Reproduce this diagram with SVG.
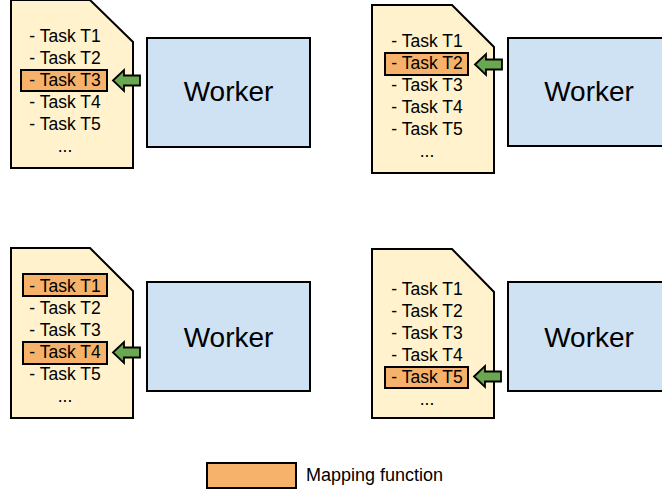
<svg xmlns="http://www.w3.org/2000/svg" width="662" height="491" viewBox="0 0 662 491">
<style>
.doc{fill:#fff2cc;stroke:#000;stroke-width:2;stroke-linejoin:miter}
.worker{fill:#cfe2f3;stroke:#000;stroke-width:2}
.hl{fill:#f6b26b;stroke:#000;stroke-width:2}
.arrow{fill:#6aa84f;stroke:#000;stroke-width:1.8;stroke-linejoin:miter}
.t{font-family:"Liberation Sans",Arial,sans-serif;font-size:17.5px;fill:#000;text-anchor:middle}
.w{font-family:"Liberation Sans",Arial,sans-serif;font-size:28px;fill:#000;text-anchor:middle}
.lg{font-family:"Liberation Sans",Arial,sans-serif;font-size:18px;fill:#000}
</style>
<rect width="662" height="491" fill="#fff"/>
<g id="doc-tl">
<path class="doc" d="M11,0 L90,0 L133,42 L133,168 L11,168 Z"/>
<rect class="hl" x="21" y="70" width="86" height="21"/>
<text class="t" x="65" y="42">- Task T1</text>
<text class="t" x="65" y="64">- Task T2</text>
<text class="t" x="65" y="86">- Task T3</text>
<text class="t" x="65" y="108">- Task T4</text>
<text class="t" x="65" y="130">- Task T5</text>
<text class="t" x="65" y="152">...</text>
</g>
<g id="worker-tl">
<rect class="worker" x="147" y="38" width="163" height="109"/>
<text class="w" x="228.5" y="101">Worker</text>
</g>
<g id="doc-tr">
<path class="doc" d="M372,5 L452,5 L494,47 L494,173 L372,173 Z"/>
<rect class="hl" x="385" y="53" width="83" height="22"/>
<text class="t" x="427" y="47">- Task T1</text>
<text class="t" x="427" y="69">- Task T2</text>
<text class="t" x="427" y="91">- Task T3</text>
<text class="t" x="427" y="113">- Task T4</text>
<text class="t" x="427" y="135">- Task T5</text>
<text class="t" x="427" y="157">...</text>
</g>
<g id="worker-tr">
<rect class="worker" x="508" y="38" width="164" height="108"/>
<text class="w" x="589" y="101">Worker</text>
</g>
<g id="doc-bl">
<path class="doc" d="M11,248 L90,248 L133,291 L133,418 L11,418 Z"/>
<rect class="hl" x="23" y="274" width="84" height="22"/>
<rect class="hl" x="23" y="342" width="84" height="22"/>
<text class="t" x="65" y="292">- Task T1</text>
<text class="t" x="65" y="314">- Task T2</text>
<text class="t" x="65" y="336">- Task T3</text>
<text class="t" x="65" y="358">- Task T4</text>
<text class="t" x="65" y="380">- Task T5</text>
<text class="t" x="65" y="402">...</text>
</g>
<g id="worker-bl">
<rect class="worker" x="147" y="282" width="163" height="109"/>
<text class="w" x="228.5" y="347">Worker</text>
</g>
<g id="doc-br">
<path class="doc" d="M372,249 L452,249 L494,292 L494,418 L372,418 Z"/>
<rect class="hl" x="385" y="367" width="83" height="21"/>
<text class="t" x="427" y="295">- Task T1</text>
<text class="t" x="427" y="317">- Task T2</text>
<text class="t" x="427" y="339">- Task T3</text>
<text class="t" x="427" y="361">- Task T4</text>
<text class="t" x="427" y="383">- Task T5</text>
<text class="t" x="427" y="405">...</text>
</g>
<g id="worker-br">
<rect class="worker" x="508" y="282" width="164" height="109"/>
<text class="w" x="589" y="347">Worker</text>
</g>
<g id="connectors">
<path class="arrow" d="M113,80.5 L124,70 L124,75.5 L140,75.5 L140,85.5 L124,85.5 L124,91 Z"/>
<path class="arrow" d="M475,64.5 L486,54 L486,59.5 L502,59.5 L502,69.5 L486,69.5 L486,75 Z"/>
<path class="arrow" d="M113,352.5 L124,342 L124,347.5 L140,347.5 L140,357.5 L124,357.5 L124,363 Z"/>
<path class="arrow" d="M474,376.5 L485,366 L485,371.5 L501,371.5 L501,381.5 L485,381.5 L485,387 Z"/>
</g>
<g id="legend">
<rect class="hl" x="207" y="463" width="89" height="25"/>
<text class="lg" x="306" y="481">Mapping function</text>
</g>
</svg>
